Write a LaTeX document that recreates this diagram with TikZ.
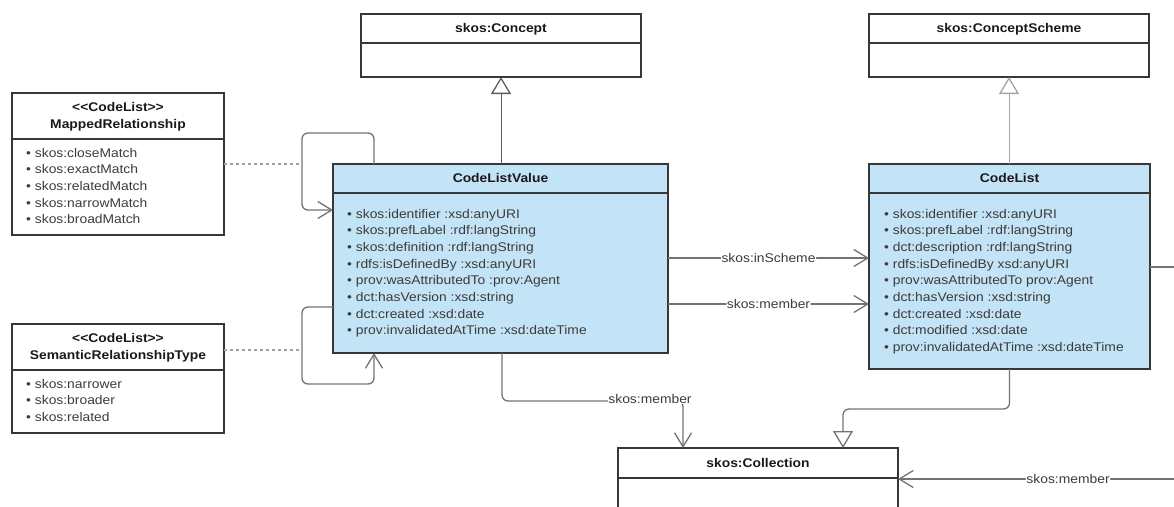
\documentclass[tikz,border=0pt]{standalone}
\usepackage{fontspec}
\setmainfont{Liberation Sans}[FakeStretch=1.1]
\usetikzlibrary{arrows.meta,calc}
\definecolor{fillblue}{RGB}{195,227,246}
\definecolor{boxline}{RGB}{55,55,55}
\definecolor{conn}{RGB}{115,115,115}
\definecolor{attrtext}{RGB}{60,60,60}
\definecolor{dashc}{RGB}{160,160,160}
\definecolor{lightconn}{RGB}{165,165,165}
\begin{document}
\begin{tikzpicture}[x=1pt,y=-1pt,
  cls/.style={draw=boxline, line width=1.6pt, inner sep=0pt, outer sep=0pt, anchor=north west},
  hdr/.style={font=\fontsize{12.6}{16.7}\selectfont\bfseries, text=black!90, inner sep=0pt, anchor=base},
  attr/.style={font=\fontsize{12.6}{16.7}\selectfont, text=attrtext, inner sep=0pt, anchor=base west},
  divider/.style={draw=boxline, line width=1.6pt},
  conline/.style={draw=conn, line width=1.3pt, rounded corners=6pt},
  dashline/.style={draw=dashc, line width=1.3pt, dash pattern=on 3pt off 3pt},
  openarrow/.style={-{Straight Barb[length=14pt,width=17pt,line width=1.3pt]}},
  gen/.style={-{Triangle[open,length=17pt,width=20pt,fill=white,line width=1.3pt]}},
  lbl/.style={font=\fontsize{12.6}{16}\selectfont, text=attrtext, fill=white, inner sep=0.5pt},
]
\useasboundingbox (0,0) rectangle (1174,506);

% ---------- class boxes ----------
\node[cls, minimum width=280pt, minimum height=63pt] (concept) at (361,14) {};
\node[cls, minimum width=280pt, minimum height=63pt] (cs) at (869,14) {};
\node[cls, minimum width=212pt, minimum height=142pt] (mr) at (12,93) {};
\node[cls, minimum width=212pt, minimum height=109pt] (srt) at (12,324) {};
\node[cls, fill=fillblue, minimum width=335pt, minimum height=189pt] (clv) at (333,164) {};
\node[cls, fill=fillblue, minimum width=281pt, minimum height=205pt] (cl) at (869,164) {};
\node[cls, minimum width=280pt, minimum height=64pt] (col) at (618,448) {};

% dividers
\draw[divider] (concept.west |- 0,43) -- (concept.east |- 0,43);
\draw[divider] (cs.west |- 0,43) -- (cs.east |- 0,43);
\draw[divider] (mr.west |- 0,139) -- (mr.east |- 0,139);
\draw[divider] (srt.west |- 0,370) -- (srt.east |- 0,370);
\draw[divider] (clv.west |- 0,193) -- (clv.east |- 0,193);
\draw[divider] (cl.west |- 0,193) -- (cl.east |- 0,193);
\draw[divider] (col.west |- 0,478) -- (col.east |- 0,478);

% ---------- headers ----------
\node[hdr] (conceptT) at (501,32) {skos:Concept};
\node[hdr] (csT) at (1009,32) {skos:ConceptScheme};
\node[hdr] (mrS) at (118,111) {<\kern0pt<CodeList>\kern0pt>};
\node[hdr] (mrT) at (118,128) {MappedRelationship};
\node[hdr] (srtS) at (118,342) {<\kern0pt<CodeList>\kern0pt>};
\node[hdr] (srtT) at (118,359) {SemanticRelationshipType};
\node[hdr] (clvT) at (500.5,182.5) {CodeListValue};
\node[hdr] (clT) at (1009.5,182.5) {CodeList};
\node[hdr] (colT) at (758,467) {skos:Collection};

% ---------- attributes ----------
\foreach \t [count=\i from 0] in {skos:closeMatch, skos:exactMatch, skos:relatedMatch, skos:narrowMatch, skos:broadMatch}
  \node[attr] (mrA\i) at (26,157+\i*16.7) {• \t};
\foreach \t [count=\i from 0] in {skos:narrower, skos:broader, skos:related}
  \node[attr] (srtA\i) at (26,388+\i*16.7) {• \t};
\foreach \t [count=\i from 0] in {skos:identifier :xsd:anyURI, skos:prefLabel :rdf:langString, skos:definition :rdf:langString, rdfs:isDefinedBy :xsd:anyURI, prov:wasAttributedTo :prov:Agent, dct:hasVersion :xsd:string, dct:created :xsd:date, prov:invalidatedAtTime :xsd:dateTime}
  \node[attr] (clvA\i) at (347,218+\i*16.7) {• \t};
\foreach \t [count=\i from 0] in {skos:identifier :xsd:anyURI, skos:prefLabel :rdf:langString, dct:description :rdf:langString, rdfs:isDefinedBy xsd:anyURI, prov:wasAttributedTo prov:Agent, dct:hasVersion :xsd:string, dct:created :xsd:date, dct:modified :xsd:date, prov:invalidatedAtTime :xsd:dateTime}
  \node[attr] (clA\i) at (884,218+\i*16.7) {• \t};

% ---------- connectors ----------
% generalisations
\draw[draw=conn!80!black, line width=1pt, gen] (concept.south |- clv.north) -- (concept.south);
\draw[draw=lightconn, line width=1pt, gen] (cs.south |- cl.north) -- (cs.south);
\draw[conline, gen] (cl.south) |- (843,409) -- (col.north -| 843,0);

% self loops
\coordinate (loopA) at (302,164);
\coordinate (loopB) at (302,350);
\draw[conline, openarrow] ([xshift=41pt]clv.north west) |- (302,133) -- (loopA) |- ([yshift=-46pt]clv.north west);
\draw[conline, openarrow] ([yshift=-143pt]clv.north west) -| (loopB) |- (374,384) -- ([xshift=41pt]clv.south west);

% association-class dashes
\draw[dashline] (mr.east |- loopA) -- (loopA);
\draw[dashline] (srt.east |- loopB) -- (loopB);

% associations between CodeListValue and CodeList
\draw[conline, openarrow] (clv.east |- 0,258) -- node[lbl] (inschemeL) {skos:inScheme} (cl.west |- 0,258);
\draw[conline, openarrow] (clv.east |- 0,304) -- node[lbl] (memberL1) {skos:member} (cl.west |- 0,304);

% CodeListValue -> Collection
\draw[conline, openarrow] ([xshift=1.5pt]clv.south) |- (683,401) -- (col.north -| 683,0);
\node[lbl] (memberL2) at (650,399) {skos:member};

% right side
\coordinate (rightA) at (1174,267);
\coordinate (rightB) at (1174,479);
\draw[conline] (cl.east |- rightA) -- (rightA);
\draw[conline, openarrow] (rightB) -- node[lbl, pos=0.384] (memberL3) {skos:member} (col.east |- rightB);
\end{tikzpicture}
\end{document}
